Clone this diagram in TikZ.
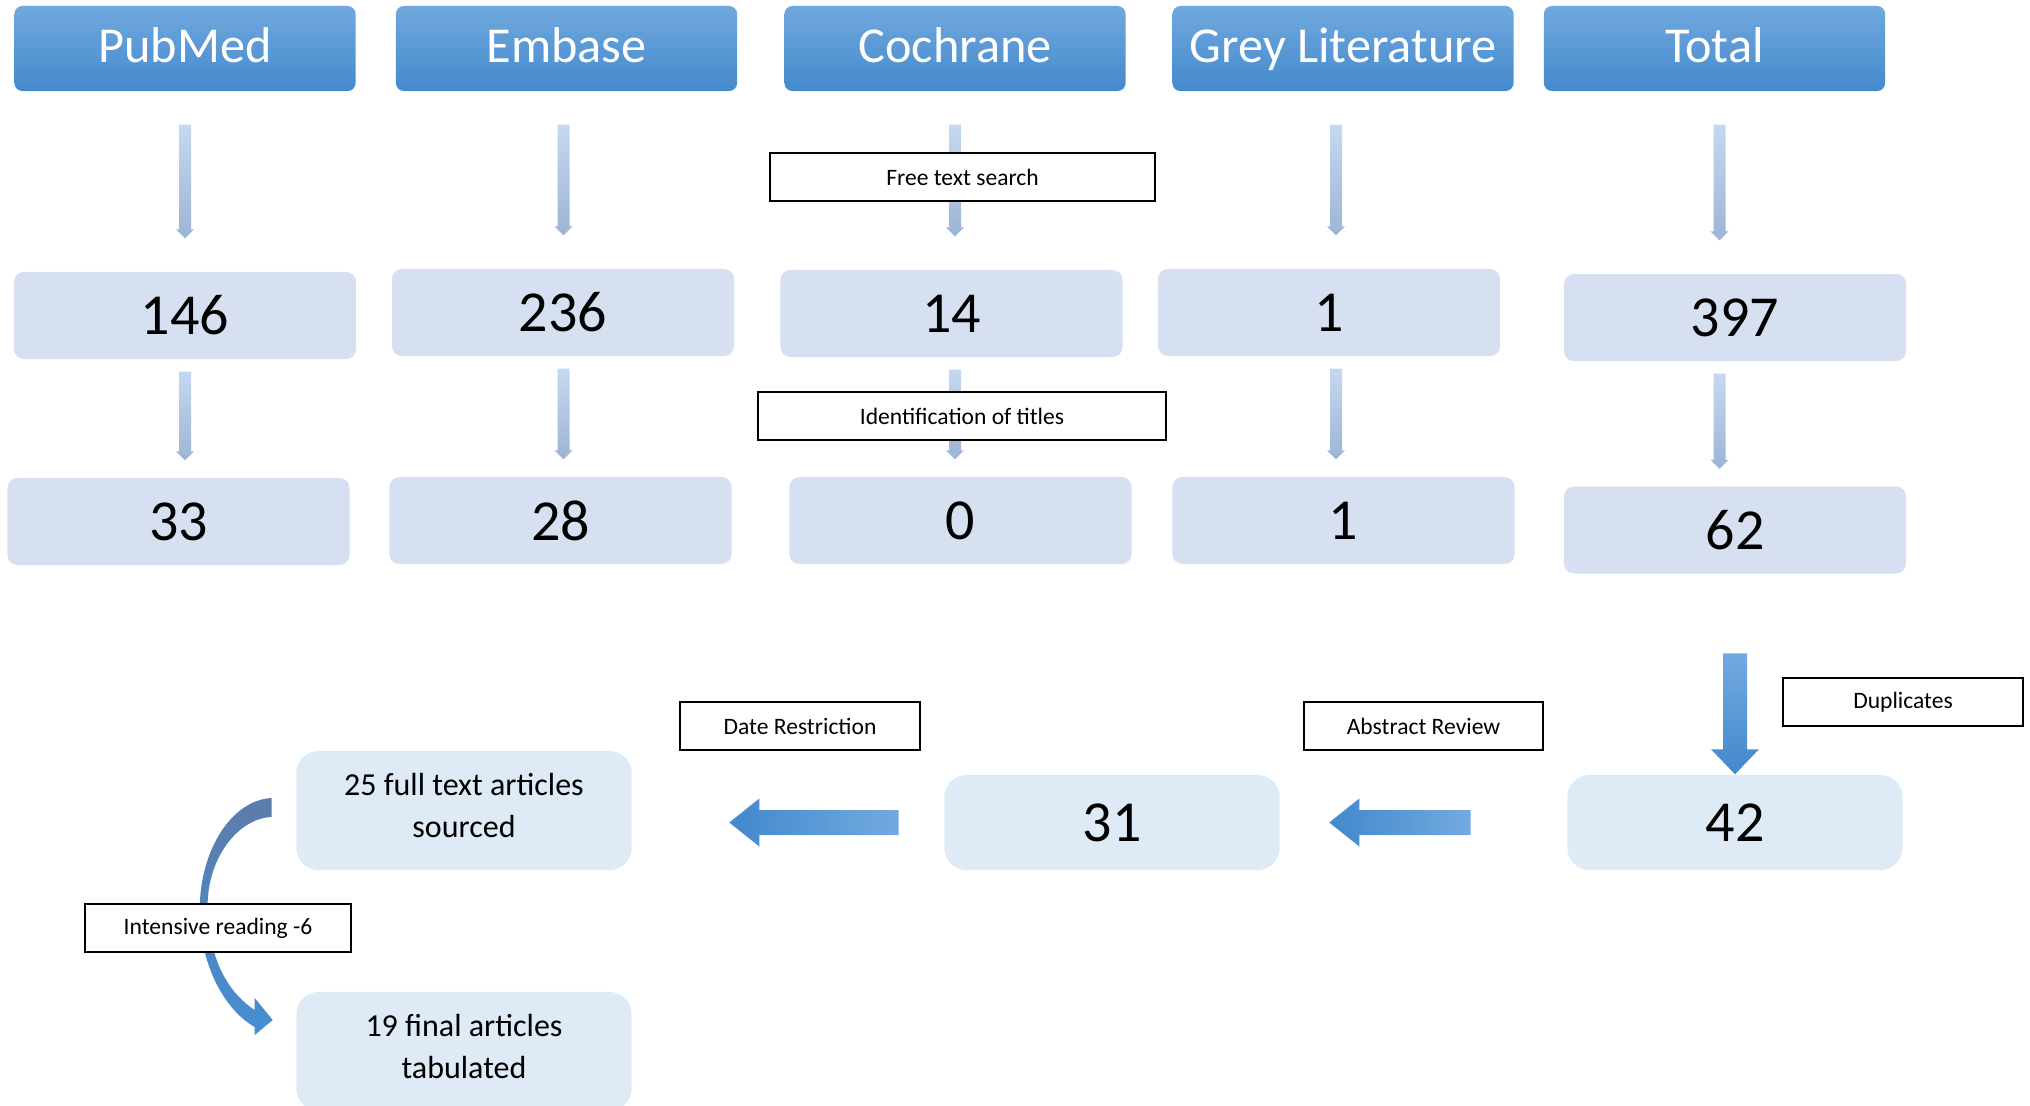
\documentclass[tikz,border=0pt]{standalone}
\usepackage{fontspec}
\setmainfont{Carlito}
\usepackage{tikz}
\usetikzlibrary{shapes,arrows,calc}
\definecolor{headtop}{RGB}{112,168,222}
\definecolor{headbot}{RGB}{68,138,204}
\definecolor{numfill}{RGB}{214,224,240}
\definecolor{lowfill}{RGB}{222,234,246}
\definecolor{slimtop}{RGB}{198,216,240}
\definecolor{slimbot}{RGB}{156,180,214}
\definecolor{bigdark}{RGB}{66,136,204}
\definecolor{biglight}{RGB}{114,170,224}
\definecolor{curvetop}{RGB}{92,124,170}
\definecolor{curvebot}{RGB}{70,142,212}
\newcommand{\slimarrow}[2]{%
  \shade[top color=slimtop,bottom color=slimbot]
    ($(#1)+(-6,0)$) -- ($(#2)+(-6,-9)$) -- ($(#2)+(-9,-9)$) -- (#2)
    -- ($(#2)+(9,-9)$) -- ($(#2)+(6,-9)$) -- ($(#1)+(6,0)$) -- cycle;}
\newcommand{\blockleft}[2]{%
  \shade[left color=bigdark,right color=biglight]
    ($(#1)+(0,-12.5)$) -- ($(#2)+(30,-12.5)$) -- ($(#2)+(30,-24)$) -- (#2)
    -- ($(#2)+(30,24)$) -- ($(#2)+(30,12.5)$) -- ($(#1)+(0,12.5)$) -- cycle;}

\begin{document}
\begin{tikzpicture}[x=0.01cm,y=-0.01cm]
    \tikzstyle{src}=[rectangle,rounded corners=0.08cm,top color=headtop,bottom color=headbot,minimum width=3.41cm,minimum height=0.85cm,inner sep=0pt,text=white,text height=11pt,text depth=2.9pt,font=\fontsize{14.3}{16}\selectfont]
    \tikzstyle{count}=[rectangle,rounded corners=0.1cm,fill=numfill,minimum width=3.42cm,minimum height=0.87cm,inner sep=0pt,font=\fontsize{16.5}{19}\selectfont]
    \tikzstyle{stage}=[rectangle,rounded corners=0.22cm,fill=lowfill,minimum width=3.35cm,minimum height=0.95cm,inner sep=0pt,font=\fontsize{16.5}{19}\selectfont]
    \tikzstyle{result}=[stage,minimum height=1.19cm,align=center,text depth=0.1cm,font=\fontsize{9.1}{11.8}\selectfont]
    \tikzstyle{note}=[rectangle,draw,line width=0.5pt,fill=white,minimum height=0.48cm,inner sep=0pt,font=\fontsize{6.7}{8}\selectfont]

    \useasboundingbox (0,0) rectangle (2030,1106);

    \node(pub)  [src] at (185,48.5) {PubMed};
    \node(emb)  [src] at (566.5,48.5) {Embase};
    \node(coc)  [src] at (955,48.5) {Cochrane};
    \node(grey) [src] at (1343,48.5) {Grey Literature};
    \node(tot)  [src] at (1714.5,48.5) {Total};

    \node(pub1)  [count] at (185,315.5) {146};
    \node(emb1)  [count] at (563,312.5) {236};
    \node(coc1)  [count] at (951.5,313.5) {14};
    \node(grey1) [count] at (1329,312.5) {1};
    \node(tot1)  [count] at (1735,317.5) {397};

    \node(pub2)  [count] at (178.5,521.5) {33};
    \node(emb2)  [count] at (560.5,520.5) {28};
    \node(coc2)  [count] at (960.5,520.5) {0};
    \node(grey2) [count] at (1343.5,520.5) {1};
    \node(tot2)  [count] at (1735,530) {62};

    \foreach \col/\dx in {pub/0,emb/-3,coc/0,grey/-7,tot/5} {
        \coordinate (\col a) at ($(\col.south)+(\dx,33)$);
        \coordinate (\col b) at ($(\col.south |- \col1.north)+(\dx,-33)$);
        \coordinate (\col c) at ($(\col.south |- \col1.south)+(\dx,12)$);
        \coordinate (\col d) at ($(\col.south |- \col2.north)+(\dx,-17)$);
        \slimarrow{\col a}{\col b}
        \slimarrow{\col c}{\col d}
    }

    \node(free)  [note,minimum width=3.85cm] at (962.5,177) {Free text search};
    \node(ident) [note,minimum width=4.08cm] at (962,416) {Identification of titles};

    \node(n42) [stage] at (1735,822.5) {42};
    \node(n31) [stage] at (1112,822.5) {31};
    \node(n25) [result] at (464,810.5) {25 full text articles\\sourced};
    \node(n19) [result] at (464,1051.5) {19 final articles\\tabulated};

    % duplicates removed
    \coordinate (dtop) at ($(n42.north)+(0,-121)$);
    \shade[top color=biglight,bottom color=bigdark]
        ($(dtop)+(-12,0)$) -- ($(n42.north)+(-12,-25)$) -- ($(n42.north)+(-24,-25)$) -- (n42.north)
        -- ($(n42.north)+(24,-25)$) -- ($(n42.north)+(12,-25)$) -- ($(dtop)+(12,0)$) -- cycle;

    \coordinate (t1) at ($(n42.west)+(-96,0)$);
    \coordinate (h1) at ($(n31.east)+(49,0)$);
    \blockleft{t1}{h1}
    \coordinate (t2) at ($(n31.west)+(-45,0)$);
    \coordinate (h2) at ($(n25.east |- n31.west)+(97,0)$);
    \blockleft{t2}{h2}

    \node(dup)  [note,minimum width=2.40cm] at (1903,702) {Duplicates};
    \node(abs)  [note,minimum width=2.39cm] at (1423.5,726) {Abstract Review};
    \node(date) [note,minimum width=2.40cm] at (800,726) {Date Restriction};

    % curved arrow from n25 down to n19
    \begin{scope}[shift={(n25.west)}]
        \shade[top color=curvetop,bottom color=curvebot]
            (-24,-12.5) .. controls (-64,-10.5) and (-96,39.5) .. (-96,99.5)
            .. controls (-96,154.5) and (-71,199.5) .. (-41,216.5)
            -- (-41,224.5) -- (-23,209.5) -- (-41,187.5) -- (-41,199.5)
            .. controls (-64,184.5) and (-86,154.5) .. (-88,99.5)
            .. controls (-90,49.5) and (-58,7.5) .. (-24,6.5) -- cycle;
    \end{scope}
    \node(intens) [note,minimum width=2.66cm] at (218,928) {Intensive reading -6};

\end{tikzpicture}
\end{document}
